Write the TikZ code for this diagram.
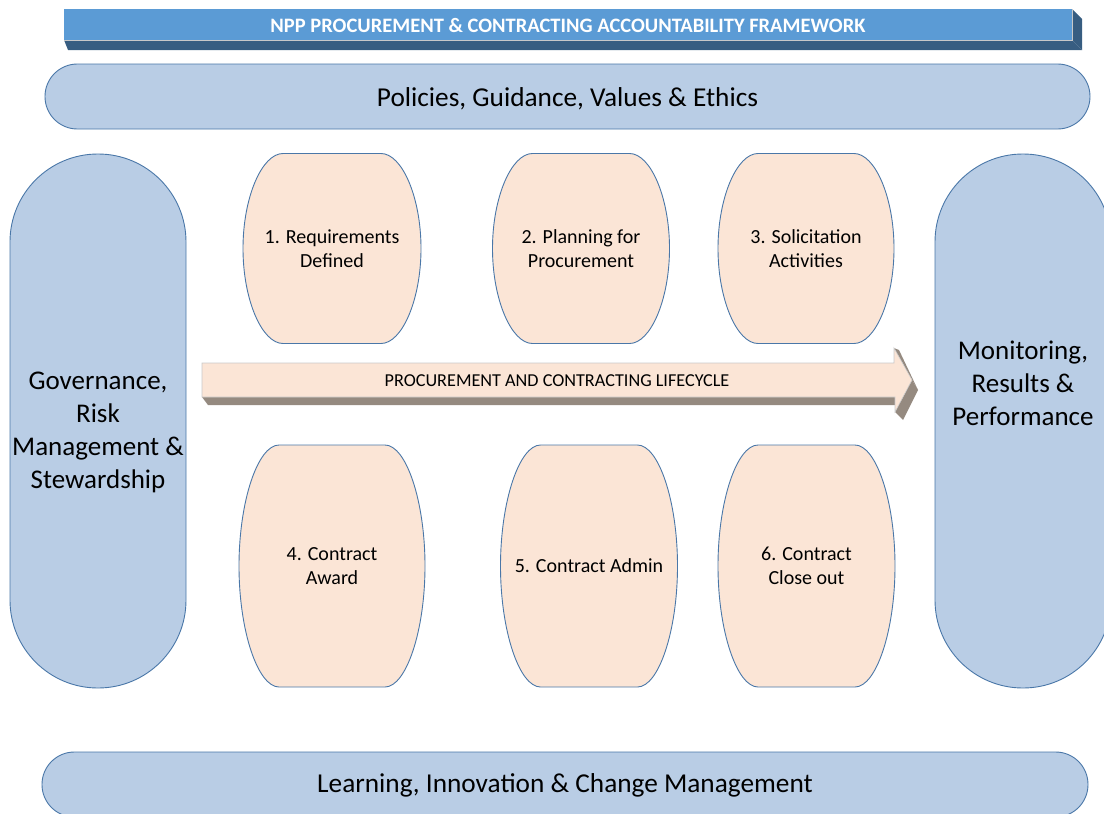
\documentclass[tikz,border=0pt]{standalone}
\usepackage{fontspec}
\setmainfont{Carlito}
\definecolor{capfill}{HTML}{B9CDE5}
\definecolor{capline}{HTML}{4A77A8}
\definecolor{stagefill}{HTML}{FBE5D6}
\definecolor{titlefront}{HTML}{5B9BD5}
\definecolor{titledark}{HTML}{375D81}
\definecolor{arrowdark}{HTML}{958A80}
\definecolor{edgegrey}{HTML}{C8C8C8}

% barrel-shaped lifecycle stage: name, centre x, centre y, width, height, label
\newcommand\stagebox[6]{%
  \draw[stage] (#2-#4/2+40,#3-#5/2) -- (#2+#4/2-40,#3-#5/2)
    .. controls (#2+#4/2-19,#3-#5/2) and (#2+#4/2,#3-#5*0.27) .. (#2+#4/2,#3)
    .. controls (#2+#4/2,#3+#5*0.27) and (#2+#4/2-19,#3+#5/2) .. (#2+#4/2-40,#3+#5/2)
    -- (#2-#4/2+40,#3+#5/2)
    .. controls (#2-#4/2+19,#3+#5/2) and (#2-#4/2,#3+#5*0.27) .. (#2-#4/2,#3)
    .. controls (#2-#4/2,#3-#5*0.27) and (#2-#4/2+19,#3-#5/2) .. (#2-#4/2+40,#3-#5/2) -- cycle;
  \node[stagetext] (#1) at (#2,#3) {#6};}

\begin{document}
\begin{tikzpicture}[x=1pt,y=-1pt,
  bluecap/.style={draw=capline, fill=capfill, line width=0.9pt},
  stage/.style={draw=capline, fill=stagefill, line width=0.9pt},
  stagetext/.style={align=center, font=\fontsize{20}{24}\selectfont},
  bigtext/.style={align=center, font=\fontsize{27}{33}\selectfont},
  bandtext/.style={font=\fontsize{27.3}{32}\selectfont},
  titletext/.style={text=white, font=\bfseries\fontsize{20.5}{24}\selectfont},
  arrowtext/.style={font=\fontsize{18.2}{21}\selectfont}]
\useasboundingbox (0,0) rectangle (1104,814);
\clip (0,0) rectangle (1104,814);

% title bar: extruded block
\fill[titledark] (64,40) -- (1072,40) -- (1082,50) -- (68,50) -- cycle;
\fill[titledark] (1072,9) -- (1082,19) -- (1082,50) -- (1072,40) -- cycle;
\draw[edgegrey, line width=0.6pt] (64,9) rectangle (1072,40);
\fill[titlefront] (64,9) rectangle (1072,40);
\node[titletext] (title) at (568,25) {NPP PROCUREMENT \& CONTRACTING ACCOUNTABILITY FRAMEWORK};

% horizontal bands
\node[bluecap, rounded corners=32.4pt, minimum width=1045pt, minimum height=65pt] (policies) at (567.5,96.5) {};
\node[bandtext] (policiestext) at (567.5,98.5) {Policies, Guidance, Values \& Ethics};
\node[bluecap, rounded corners=32.4pt, minimum width=1046pt, minimum height=65pt] (learning) at (565,784.5) {};
\node[bandtext] (learningtext) at (565,785.5) {Learning, Innovation \& Change Management};

% side pillars
\node[bluecap, rounded corners=87.9pt, minimum width=176pt, minimum height=534pt] (gov) at (98,421) {};
\node[bigtext] (govtext) at (98,432) {Governance,\\Risk\\Management \&\\Stewardship};
\node[bluecap, rounded corners=87.9pt, minimum width=176pt, minimum height=534pt] (mon) at (1023,421) {};
\node[bigtext] (montext) at (1023,383) {Monitoring,\\Results \&\\Performance};

% lifecycle arrow
\fill[arrowdark] (202,397) -- (895,397) -- (902,405) -- (208,405) -- cycle;
\fill[arrowdark] (912,380) -- (918,390) -- (903,420) -- (895,412) -- cycle;
\fill[arrowdark] (894,348) -- (899,350) -- (918,390) -- (912,380) -- cycle;
\fill[stagefill, draw=edgegrey, line width=0.6pt] (202,363) -- (894,363) -- (894,348) -- (912,380)
  -- (895,412) -- (895,397) -- (202,397) -- cycle;
\node[arrowtext] (lifecycle) at (557,381) {PROCUREMENT AND CONTRACTING LIFECYCLE};

% lifecycle stages
\stagebox{s1}{332}{248.5}{178}{190}{1. Requirements\\Defined}
\stagebox{s2}{581}{248.5}{177}{190}{2. Planning for\\Procurement}
\stagebox{s3}{806}{248.5}{176}{190}{3. Solicitation\\Activities}
\stagebox{s4}{332}{566}{186}{242}{4. Contract\\Award}
\stagebox{s5}{589}{566}{177}{242}{5. Contract Admin}
\stagebox{s6}{806.5}{566}{177}{242}{6. Contract\\Close out}
\end{tikzpicture}
\end{document}
